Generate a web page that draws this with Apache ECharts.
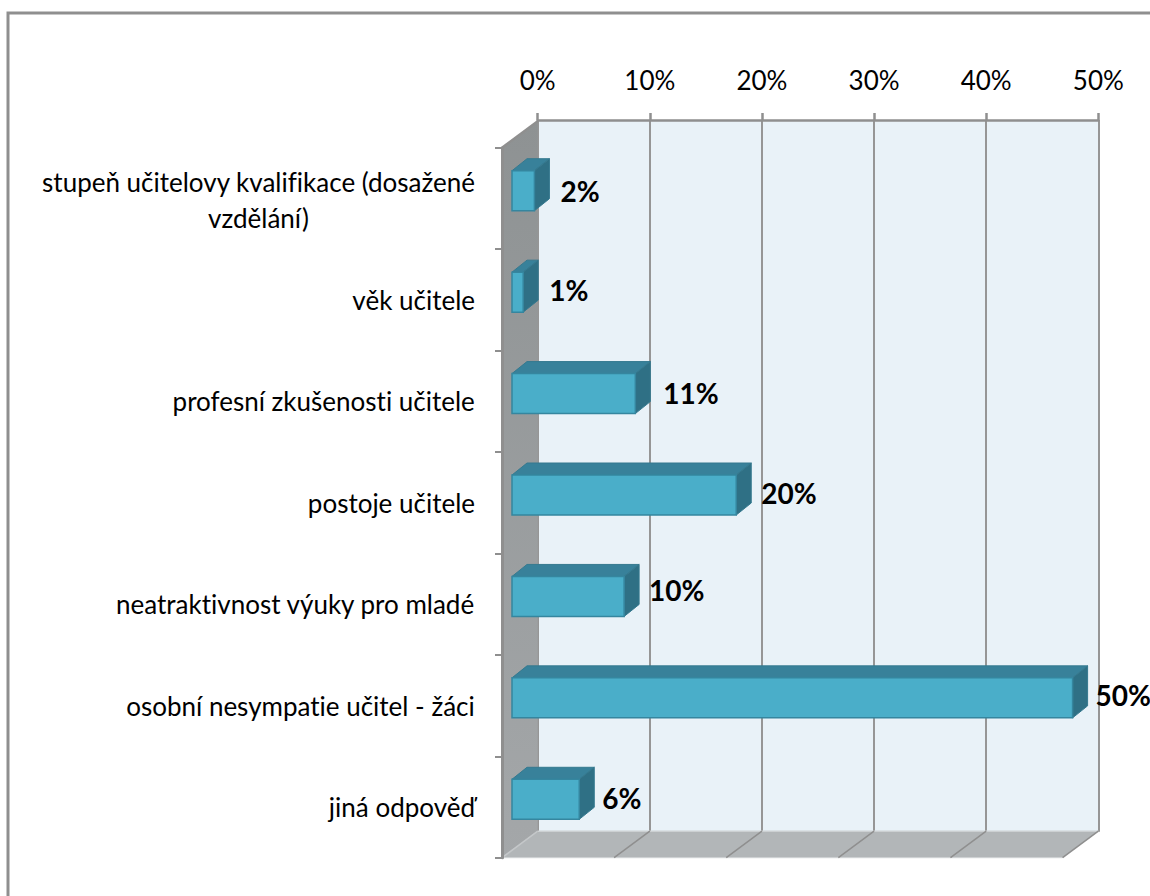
<!DOCTYPE html>
<html>
<head>
<meta charset="utf-8">
<style>html,body{margin:0;padding:0;background:#fff;overflow:hidden}#c{width:1150px;height:896px}
svg text{font-variant-ligatures:none;font-feature-settings:"liga" 0,"clig" 0}</style>
<script src="https://cdn.jsdelivr.net/npm/echarts@6/dist/echarts.min.js"></script>
</head>
<body>
<div id="c"></div>
<script>
const categories = [
  'stupeň učitelovy kvalifikace (dosažené\nvzdělání)',
  'věk učitele',
  'profesní zkušenosti učitele',
  'postoje učitele',
  'neatraktivnost výuky pro mladé',
  'osobní nesympatie učitel - žáci',
  'jiná odpověď'
];
const values = [2, 1, 11, 20, 10, 50, 6];
const axisTicks = [0, 10, 20, 30, 40, 50];

const FONT = 'Lato, Carlito, sans-serif';
const DX = 35.7, DY = 26.5;
const labelNudge = [0, -2, -1, -2.5, -6, -3, -1];
const labelGap = [26, 26, 28, 25, 25, 23, 23];

const chart = echarts.init(document.getElementById('c'), null, {renderer: 'svg'});

function renderWalls(params, api) {
  const r = params.coordSys;
  const L = r.x, T = r.y, R = r.x + r.width, B = r.y + r.height;
  const kids = [];
  kids.push({type: 'polygon', shape: {points: [[L, T], [L + DX, T - DY], [L + DX, B - DY], [L, B]]},
    style: {fill: new echarts.graphic.LinearGradient(0, 0, 0, 1, [{offset: 0, color: '#8e9293'}, {offset: 1, color: '#a4a7a9'}])}});
  kids.push({type: 'polygon', shape: {points: [[L, B], [R, B], [R + DX, B - DY], [L + DX, B - DY]]},
    style: {fill: '#b2b6b8'}});
  kids.push({type: 'line', shape: {x1: L + DX, y1: B - DY, x2: R + DX, y2: B - DY}, style: {stroke: '#ccd0d2', lineWidth: 1.5}});
  kids.push({type: 'line', shape: {x1: L, y1: B, x2: R, y2: B}, style: {stroke: '#d0d3d5', lineWidth: 1}});
  kids.push({type: 'line', shape: {x1: L, y1: T, x2: L + DX, y2: T - DY}, style: {stroke: '#8f8f8f', lineWidth: 2.5}});
  kids.push({type: 'line', shape: {x1: L, y1: B, x2: L + DX, y2: B - DY}, style: {stroke: '#c4c7c9', lineWidth: 1.5}});
  axisTicks.slice(1).forEach(function (t) {
    const x = api.coord([t, 0])[0];
    kids.push({type: 'line', shape: {x1: x, y1: B, x2: x + DX, y2: B - DY}, style: {stroke: '#8f8f8f', lineWidth: 1.5}});
  });
  return {type: 'group', children: kids};
}

function renderBar(params, api) {
  const v = api.value(0), i = api.value(1);
  const p0 = api.coord([0, i]), p1 = api.coord([v, i]);
  const ox = 10, oy = -7.7, h = 40, dx = 15, dy = 12;
  const x0 = p0[0] + ox, x1 = p1[0] + ox;
  const yT = p0[1] + oy - h / 2, yB = yT + h;
  return {type: 'group', children: [
    {type: 'polygon', shape: {points: [[x0, yT], [x0 + dx, yT - dy], [x1 + dx, yT - dy], [x1, yT]]},
      style: {fill: '#38819a', stroke: '#35798f', lineWidth: 1}},
    {type: 'polygon', shape: {points: [[x1, yT], [x1 + dx, yT - dy], [x1 + dx, yB - dy], [x1, yB]]},
      style: {fill: '#2f7085', stroke: '#35798f', lineWidth: 1}},
    {type: 'rect', shape: {x: x0, y: yT, width: x1 - x0, height: h},
      style: {fill: '#4aaec9', stroke: '#35869f', lineWidth: 1.5}},
    {type: 'text', x: x1 + labelGap[i], y: p0[1] + oy + labelNudge[i],
      style: {text: v + '%', font: 'bold 28px ' + FONT, fill: '#000', textAlign: 'left', textVerticalAlign: 'middle'}}
  ]};
}

chart.setOption({
  animation: false,
  backgroundColor: '#fff',
  graphic: [{type: 'rect', shape: {x: 8, y: 13, width: 1300, height: 1000},
    style: {fill: 'none', stroke: '#8f8f8f', lineWidth: 3}, silent: true, z: 100}],
  grid: [
    {left: 537.7, top: 120, width: 560.6, height: 711.7, show: true, backgroundColor: '#e9f2f8', borderWidth: 0},
    {left: 502, top: 147.7, width: 560.6, height: 710}
  ],
  xAxis: [
    {gridIndex: 0, type: 'value', position: 'top', min: 0, max: 50, interval: 10,
      axisLine: {show: true, onZero: false, lineStyle: {color: '#8f8f8f', width: 2.5}},
      axisTick: {show: true, length: 7, lineStyle: {color: '#8f8f8f', width: 2.5}},
      splitLine: {show: true, lineStyle: {color: '#969696', width: 2}},
      axisLabel: {formatter: '{value}%', fontFamily: FONT, fontSize: 26, color: '#000', margin: 27}},
    {gridIndex: 1, type: 'value', min: 0, max: 50, interval: 10, show: false}
  ],
  yAxis: [
    {gridIndex: 0, type: 'value', min: 0, max: 1, show: false},
    {gridIndex: 1, type: 'category', inverse: true, data: categories, z: 6,
      axisLine: {show: true, lineStyle: {color: '#8f8f8f', width: 3}},
      axisTick: {show: true, length: 7, alignWithLabel: false, lineStyle: {color: '#8f8f8f', width: 2}},
      axisLabel: {margin: 27, color: '#000', fontFamily: FONT, fontSize: 26, interval: 0,
        formatter: function (s) {
          return s.indexOf('\n') < 0 ? '{c|' + s + '}' : s.split('\n').map(function (l) { return '{m|' + l + '}'; }).join('\n');
        },
        rich: {
          c: {align: 'center', fontFamily: FONT, fontSize: 26, color: '#000', lineHeight: 34},
          m: {align: 'center', fontFamily: FONT, fontSize: 26, color: '#000', lineHeight: 36, padding: [3, 0, 0, 0]}
        }}}
  ],
  series: [
    {type: 'custom', name: 'walls', coordinateSystem: 'cartesian2d', xAxisIndex: 1, yAxisIndex: 1, z: 3, silent: true,
      data: [[0, 0]], renderItem: renderWalls},
    {type: 'custom', name: 'bars', coordinateSystem: 'cartesian2d', xAxisIndex: 1, yAxisIndex: 1, z: 8, silent: true,
      data: values.map(function (v, i) { return [v, i]; }), encode: {x: 0, y: 1}, renderItem: renderBar}
  ]
});
</script>
</body>
</html>
